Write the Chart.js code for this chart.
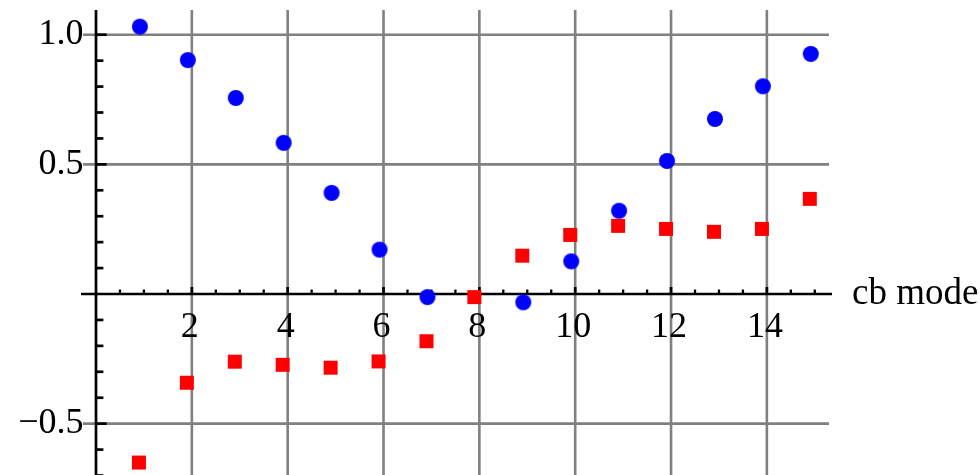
<!DOCTYPE html>
<html>
<head>
<meta charset="utf-8">
<style>
  html, body { margin: 0; padding: 0; background: #ffffff; }
  canvas { display: block; }
</style>
<script src="https://cdn.jsdelivr.net/npm/chart.js@4.4.1/dist/chart.umd.min.js"></script>
</head>
<body>
<canvas id="chart" width="980" height="475"></canvas>
<script>
// Mode index along the horizontal axis
const modes = [1, 2, 3, 4, 5, 6, 7, 8, 9, 10, 11, 12, 13, 14, 15];

// Blue circles (no circle is drawn at mode 8)
const circleValues = [1.031, 0.902, 0.756, 0.583, 0.390, 0.171, -0.012, null,
                      -0.032, 0.126, 0.321, 0.513, 0.675, 0.801, 0.926];

// Red squares
const squareValues = [-0.650, -0.342, -0.261, -0.273, -0.284, -0.260, -0.182, -0.012,
                      0.148, 0.228, 0.263, 0.251, 0.240, 0.251, 0.367];

// Labelled ticks (gridlines run through these)
const xTickValues = [2, 4, 6, 8, 10, 12, 14];
const xTickLabels = ['2', '4', '6', '8', '10', '12', '14'];
const yTickValues = [-0.5, 0.5, 1.0];
const yTickLabels = ['\u22120.5', '0.5', '1.0'];
const xAxisTitle = 'cb mode';

// Visible window of the plot
const X_MIN = -0.313, X_MAX = 15.359;
const Y_MIN = -0.698, Y_MAX = 1.0953;

const SERIF = '"Liberation Serif", "Times New Roman", Times, serif';

// Marker glyphs whose anchor sits a little right of the shape's centre
function makeMarker(shape, size, color, lead) {
  const w = size + 2 * lead + 2, h = size + 2;
  const c = document.createElement('canvas');
  c.width = w; c.height = h;
  const g = c.getContext('2d');
  const cx = w / 2 - lead, cy = h / 2;
  g.fillStyle = color;
  if (shape === 'circle') {
    g.beginPath();
    g.arc(cx, cy, size / 2, 0, Math.PI * 2);
    g.fill();
  } else {
    g.fillRect(cx - size / 2, cy - size / 2, size, size);
  }
  return c;
}

// Axes crossing at the origin, gridlines, ticks and labels
const crossedAxes = {
  id: 'crossedAxes',
  beforeDatasetsDraw(chart) {
    const { ctx, chartArea: a, scales: { x, y } } = chart;
    const x0 = x.getPixelForValue(0);
    const y0 = y.getPixelForValue(0);
    const seg = (x1, y1, x2, y2) => { ctx.beginPath(); ctx.moveTo(x1, y1); ctx.lineTo(x2, y2); ctx.stroke(); };

    ctx.save();
    // gridlines
    ctx.strokeStyle = '#808080';
    ctx.lineWidth = 2.6;
    xTickValues.forEach(v => { const px = x.getPixelForValue(v); seg(px, a.top, px, a.bottom); });
    yTickValues.forEach(v => { const py = y.getPixelForValue(v); seg(a.left + 2, py, a.right - 3, py); });

    // axis lines
    ctx.strokeStyle = '#000000';
    ctx.lineWidth = 2.7;
    seg(a.left, y0, a.right, y0);
    seg(x0, a.top, x0, a.bottom);

    // x ticks every 0.5, pointing up into the plot
    for (let k = 1; k <= 30; k++) {
      const v = k / 2;
      const major = xTickValues.includes(v);
      const px = x.getPixelForValue(v);
      ctx.lineWidth = major ? 2.7 : 2.3;
      seg(px, y0, px, y0 - (major ? 7 : 4.5));
    }
    // y ticks every 0.1, pointing right into the plot
    for (let k = -7; k <= 10; k++) {
      if (k === 0) continue;
      const v = k / 10;
      const major = k % 5 === 0;
      const py = y.getPixelForValue(v);
      ctx.lineWidth = 2.7;
      seg(x0, py, x0 + (major ? 10.7 : 7.4), py);
    }

    // tick labels
    ctx.fillStyle = '#000000';
    ctx.font = '36px ' + SERIF;
    ctx.textBaseline = 'alphabetic';
    ctx.textAlign = 'center';
    xTickValues.forEach((v, i) => {
      ctx.fillText(xTickLabels[i], x.getPixelForValue(v) - 2, y0 + 42.5);
    });
    ctx.textAlign = 'right';
    yTickValues.forEach((v, i) => {
      ctx.fillText(yTickLabels[i], x0 - 12.5, y.getPixelForValue(v) + 9.5);
    });

    // axis title at the end of the horizontal axis
    ctx.font = '37px ' + SERIF;
    ctx.textAlign = 'left';
    ctx.fillText(xAxisTitle, a.right + 20, y0 + 10);
    ctx.restore();
  }
};

const toPoints = vals => modes.map((m, i) => ({ x: m, y: vals[i] }));

new Chart(document.getElementById('chart'), {
  type: 'scatter',
  data: {
    datasets: [
      {
        label: 'squares',
        data: toPoints(squareValues),
        pointStyle: makeMarker('square', 14, '#ff0000', 5),
        pointRadius: 7,
        showLine: false
      },
      {
        label: 'circles',
        data: toPoints(circleValues),
        pointStyle: makeMarker('circle', 16, '#0000ff', 4),
        pointRadius: 8,
        showLine: false
      }
    ]
  },
  options: {
    responsive: false,
    animation: false,
    events: [],
    layout: { autoPadding: false, padding: { left: 81, right: 148, top: 10, bottom: 0 } },
    plugins: { legend: { display: false }, tooltip: { enabled: false } },
    scales: {
      x: { type: 'linear', display: false, bounds: 'data', min: X_MIN, max: X_MAX },
      y: { type: 'linear', display: false, bounds: 'data', min: Y_MIN, max: Y_MAX }
    }
  },
  plugins: [crossedAxes]
});
</script>
</body>
</html>
